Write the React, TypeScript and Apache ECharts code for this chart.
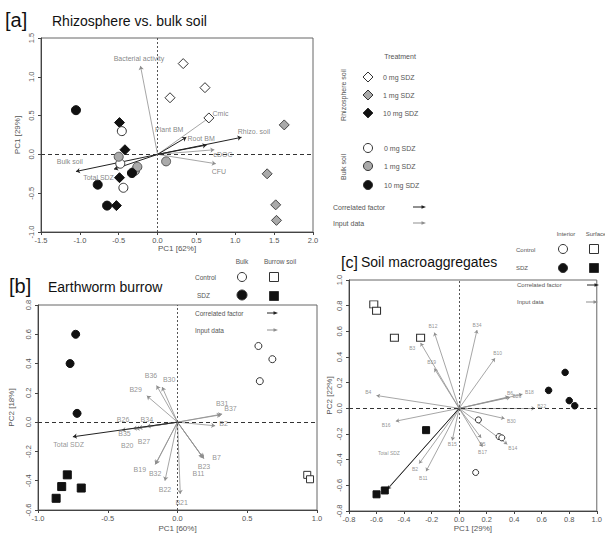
import React, { useEffect, useRef } from 'react';
import * as echarts from 'echarts';

const FONT = '"Liberation Sans", Arial, Helvetica, sans-serif';

// ---------- Panel a: Rhizosphere vs. bulk soil ----------
const aRhizo0 = [[0.33, 1.17], [0.61, 0.86], [0.16, 0.73], [0.66, 0.47]];
const aRhizo1 = [[1.63, 0.38], [1.41, -0.25], [1.52, -0.65], [1.53, -0.85]];
const aRhizo10 = [[-0.49, 0.41], [-0.42, 0.06], [-0.49, -0.3], [-0.53, -0.66]];
const aBulk0 = [[-0.46, 0.3], [-0.48, -0.12], [-0.44, -0.43]];
const aBulk1 = [[-0.5, -0.03], [-0.29, -0.21], [-0.26, -0.16], [0.11, -0.09]];
const aBulk10 = [[-1.05, 0.57], [-0.77, -0.39], [-0.65, -0.66], [-0.33, -0.24]];
// [name, x, y, labelX, labelY, kind]
const aArrows: [string, number, number, number, number, string][] = [
  ['Bacterial activity', -0.22, 1.14, -0.24, 1.24, 'input'],
  ['Cmic', 0.66, 0.47, 0.81, 0.53, 'input'],
  ['Plant BM', 0.37, 0.22, 0.15, 0.32, 'corr'],
  ['Root BM', 0.63, 0.12, 0.56, 0.21, 'corr'],
  ['Rhizo. soil', 1.08, 0.22, 1.24, 0.29, 'corr'],
  ['eDOC', 0.73, 0.06, 0.84, 0.0, 'input'],
  ['CFU', 0.75, -0.12, 0.79, -0.22, 'input'],
  ['Bulk soil', -1.05, -0.22, -1.13, -0.09, 'corr'],
  ['Total SDZ', -0.56, -0.19, -0.76, -0.3, 'corr'],
];
const aXTicks = { min: -1.5, max: 2.0, step: 0.5 };
const aYTicks = { min: -1.0, max: 1.5, step: 0.5 };

// ---------- Panel b: Earthworm burrow ----------
const bBulkSDZ = [[-0.73, 0.6], [-0.77, 0.4], [-0.72, 0.06]];
const bBulkCtrl = [[0.58, 0.52], [0.68, 0.43], [0.59, 0.28]];
const bBurrowSDZ = [[-0.79, -0.36], [-0.83, -0.44], [-0.69, -0.45], [-0.87, -0.52]];
const bBurrowCtrl = [[0.93, -0.36], [0.95, -0.39]];
const bArrows: [string, number, number, number, number, string][] = [
  ['B36', -0.15, 0.25, -0.19, 0.32, 'input'],
  ['B30', -0.11, 0.24, -0.06, 0.29, 'input'],
  ['B29', -0.22, 0.18, -0.3, 0.22, 'input'],
  ['B31', 0.32, 0.055, 0.32, 0.13, 'input'],
  ['B37', 0.31, 0.05, 0.38, 0.09, 'input'],
  ['B2', 0.27, -0.025, 0.33, -0.01, 'input'],
  ['B7', 0.19, -0.25, 0.28, -0.24, 'input'],
  ['B23', 0.185, -0.245, 0.19, -0.3, 'input'],
  ['B11', 0.18, -0.24, 0.15, -0.35, 'input'],
  ['B19', -0.16, -0.29, -0.27, -0.32, 'input'],
  ['B32', -0.155, -0.285, -0.16, -0.35, 'input'],
  ['B22', -0.09, -0.4, -0.09, -0.46, 'input'],
  ['B21', 0.02, -0.49, 0.03, -0.55, 'input'],
  ['B26', -0.4, -0.055, -0.39, 0.015, 'input'],
  ['B34', -0.22, -0.03, -0.22, 0.015, 'input'],
  ['B35', -0.3, -0.045, -0.38, -0.08, 'input'],
  ['B27', -0.28, -0.04, -0.24, -0.13, 'input'],
  ['B20', -0.32, -0.045, -0.36, -0.16, 'input'],
  ['Total SDZ', -0.75, -0.1, -0.78, -0.15, 'corr'],
];
const bXTicks = { min: -1.0, max: 1.0, step: 0.5 };
const bYTicks = { min: -0.6, max: 0.8, step: 0.2 };

// ---------- Panel c: Soil macroaggregates ----------
const cSurfCtrl = [[-0.62, 0.81], [-0.6, 0.76], [-0.47, 0.55], [-0.28, 0.55]];
const cSurfSDZ = [[-0.24, -0.17], [-0.54, -0.64], [-0.6, -0.67]];
const cIntCtrl = [[0.14, -0.09], [0.29, -0.22], [0.31, -0.23], [0.12, -0.5]];
const cIntSDZ = [[0.77, 0.28], [0.65, 0.14], [0.8, 0.06], [0.84, 0.02]];
const cArrows: [string, number, number, number, number, string][] = [
  ['B4', -0.6, 0.1, -0.66, 0.13, 'input'],
  ['B16', -0.46, -0.1, -0.53, -0.13, 'input'],
  ['B19', -0.18, 0.31, -0.2, 0.36, 'input'],
  ['B3', -0.28, 0.51, -0.34, 0.47, 'input'],
  ['B12', -0.18, 0.59, -0.19, 0.64, 'input'],
  ['B34', 0.13, 0.61, 0.13, 0.65, 'input'],
  ['B10', 0.26, 0.39, 0.28, 0.43, 'input'],
  ['B6', 0.36, 0.09, 0.37, 0.12, 'input'],
  ['B26', 0.37, 0.085, 0.42, 0.1, 'input'],
  ['B18', 0.46, 0.11, 0.51, 0.13, 'input'],
  ['B22', 0.55, 0.0, 0.6, 0.02, 'input'],
  ['B30', 0.33, -0.08, 0.38, -0.1, 'input'],
  ['B14', 0.35, -0.28, 0.39, -0.31, 'input'],
  ['B5', 0.16, -0.23, 0.17, -0.28, 'input'],
  ['B17', 0.17, -0.3, 0.17, -0.34, 'input'],
  ['B15', -0.05, -0.25, -0.05, -0.28, 'input'],
  ['B2', -0.29, -0.43, -0.32, -0.47, 'input'],
  ['B11', -0.24, -0.49, -0.26, -0.54, 'input'],
  ['', -0.55, -0.66, -0.55, -0.66, 'input'],
  ['Total SDZ', -0.52, -0.63, -0.51, -0.35, 'corr'],
];
const cXTicks = { min: -0.8, max: 1.0, step: 0.2 };
const cYTicks = { min: -0.8, max: 1.0, step: 0.2 };

const TICK_COLOR = '#555';
const AXIS_COLOR = '#444';

function xAxis(idx: number, t: any, name: string, nameGap: number) {
  return {
    type: 'value', gridIndex: idx, min: t.min, max: t.max, interval: t.step,
    name, nameLocation: 'middle', nameGap,
    nameTextStyle: { fontSize: 8, color: TICK_COLOR, fontFamily: FONT },
    axisLine: { show: true, onZero: false, lineStyle: { color: AXIS_COLOR, width: 1 } },
    axisTick: { show: true, length: 3, lineStyle: { color: AXIS_COLOR } },
    splitLine: { show: false },
    axisLabel: { fontSize: 7.5, color: TICK_COLOR, fontFamily: FONT, margin: 4, formatter: (v: number) => v.toFixed(1) },
  };
}
function yAxis(idx: number, t: any, name: string, nameGap: number) {
  return {
    type: 'value', gridIndex: idx, min: t.min, max: t.max, interval: t.step,
    name, nameLocation: 'middle', nameGap, nameRotate: 90,
    nameTextStyle: { fontSize: 8, color: TICK_COLOR, fontFamily: FONT },
    axisLine: { show: true, onZero: false, lineStyle: { color: AXIS_COLOR, width: 1 } },
    axisTick: { show: true, length: 3, lineStyle: { color: AXIS_COLOR } },
    splitLine: { show: false },
    axisLabel: { fontSize: 7.5, color: TICK_COLOR, fontFamily: FONT, margin: 6, rotate: 90, formatter: (v: number) => v.toFixed(1) },
  };
}

function pts(data: number[][], idx: number, symbol: string, size: any, fill: string, border: string) {
  return {
    type: 'scatter', xAxisIndex: idx, yAxisIndex: idx, data, symbol, symbolSize: size,
    itemStyle: { color: fill, borderColor: border, borderWidth: 1, opacity: 1 }, z: 6, silent: true,
  };
}

function arrowSeries(list: [string, number, number, number, number, string][], idx: number, head: number, labelSize: number, labelColor: string) {
  const mk = (kind: string, color: string, width: number) => ({
    type: 'lines', coordinateSystem: 'cartesian2d', xAxisIndex: idx, yAxisIndex: idx,
    symbol: ['none', 'arrow'], symbolSize: head, silent: true, z: kind === 'corr' ? 4 : 3,
    lineStyle: { color, width, opacity: 1, curveness: 0 },
    data: list.filter((a) => a[5] === kind).map((a) => ({ coords: [[0, 0], [a[1], a[2]]] })),
  });
  const labels = {
    type: 'scatter', xAxisIndex: idx, yAxisIndex: idx, symbol: 'circle', symbolSize: 1, silent: true, z: 7,
    itemStyle: { color: 'rgba(0,0,0,0)' },
    label: { show: true, position: 'inside', formatter: (p: any) => p.data.name, fontSize: labelSize, color: labelColor, fontFamily: FONT },
    data: list.filter((a) => a[0] !== '').map((a) => ({ name: a[0], value: [a[3], a[4]] })),
    markLine: {
      silent: true, symbol: 'none', label: { show: false },
      data: [
        { xAxis: 0, lineStyle: { type: [2, 2], color: '#555', width: 1 } },
        { yAxis: 0, lineStyle: { type: [4, 3], color: '#333', width: 1 } },
      ],
    },
  };
  return [mk('input', '#8f8f8f', 0.8), mk('corr', '#222', 1), labels];
}

function txt(text: string, x: number, y: number, size: number, color: string, align = 'left', rotation = 0) {
  return {
    type: 'text', x, y, rotation, silent: true,
    style: { text, fill: color, font: `${size}px ${FONT}`, align, verticalAlign: 'middle' },
  };
}
function circ(cx: number, cy: number, r: number, fill: string) {
  return { type: 'circle', silent: true, shape: { cx, cy, r }, style: { fill, stroke: '#333', lineWidth: 1 } };
}
function sq(cx: number, cy: number, s: number, fill: string) {
  return { type: 'rect', silent: true, shape: { x: cx - s / 2, y: cy - s / 2, width: s, height: s }, style: { fill, stroke: '#333', lineWidth: 1 } };
}
function dia(cx: number, cy: number, h: number, fill: string) {
  return { type: 'polygon', silent: true, shape: { points: [[cx, cy - h], [cx + h, cy], [cx, cy + h], [cx - h, cy]] }, style: { fill, stroke: '#333', lineWidth: 1 } };
}
function arrowG(x1: number, x2: number, y: number, color: string) {
  return [
    { type: 'line', silent: true, shape: { x1, y1: y, x2: x2 - 3, y2: y }, style: { stroke: color, lineWidth: 1 } },
    { type: 'polygon', silent: true, shape: { points: [[x2, y], [x2 - 4.5, y - 1.8], [x2 - 4.5, y + 1.8]] }, style: { fill: color } },
  ];
}

export default function App() {
  const ref = useRef<HTMLDivElement>(null);
  useEffect(() => {
    document.body.style.margin = '0';
    const chart = echarts.init(ref.current!, null, { renderer: 'svg' });
    const legendColor = '#555';
    const graphic: any[] = [
      // titles
      txt('[a]', 5, 20, 20, '#111'),
      txt('Rhizosphere vs. bulk soil', 52, 21, 14, '#111'),
      txt('[b]', 9, 286, 20, '#111'),
      txt('Earthworm burrow', 48, 287, 14, '#111'),
      txt('[c]', 341, 262, 16, '#111'),
      txt('Soil macroaggregates', 361, 262, 14, '#111'),
      // legend a
      txt('Treatment', 400, 56, 7, legendColor, 'center'),
      txt('Rhizosphere soil', 343, 95, 7, legendColor, 'center', Math.PI / 2),
      txt('Bulk soil', 343, 167, 7, legendColor, 'center', Math.PI / 2),
      dia(368, 77, 5, '#fff'), dia(368, 95, 5, '#aaa'), dia(368, 113, 5, '#111'),
      circ(368, 148, 4.5, '#fff'), circ(368, 166, 4.5, '#aaa'), circ(368, 185, 4.5, '#111'),
      txt('0 mg SDZ', 383, 77, 7, legendColor), txt('1 mg SDZ', 383, 95, 7, legendColor), txt('10 mg SDZ', 383, 113, 7, legendColor),
      txt('0 mg SDZ', 384, 148, 7, legendColor), txt('1 mg SDZ', 384, 166, 7, legendColor), txt('10 mg SDZ', 384, 185, 7, legendColor),
      txt('Correlated factor', 333, 207, 7, legendColor), ...arrowG(413, 426, 207, '#222'),
      txt('Input data', 333, 223, 7, legendColor), ...arrowG(413, 426, 223, '#8f8f8f'),
      // legend b
      txt('Bulk', 242, 261, 6.5, legendColor, 'center'), txt('Burrow soil', 280, 261, 6.5, legendColor, 'center'),
      txt('Control', 195, 277, 6.5, legendColor), txt('SDZ', 197, 295, 6.5, legendColor),
      circ(242, 277, 4.5, '#fff'), sq(274, 277, 9, '#fff'), circ(242, 295, 5, '#111'), sq(274, 296, 9, '#111'),
      txt('Correlated factor', 195, 313, 6.5, legendColor), ...arrowG(267, 278, 313, '#222'),
      txt('Input data', 195, 330, 6.5, legendColor), ...arrowG(267, 278, 330, '#8f8f8f'),
      // legend c
      txt('Interior', 566, 234, 6, legendColor, 'center'), txt('Surface', 596, 234, 6, legendColor, 'center'),
      txt('Control', 516, 250, 6, legendColor), txt('SDZ', 516, 268, 6, legendColor),
      circ(563, 249, 4.5, '#fff'), sq(594, 249, 9, '#fff'), circ(563, 268, 4.5, '#111'), sq(594, 268, 9, '#111'),
      txt('Correlated factor', 517, 285, 6, legendColor), ...arrowG(587, 599, 285, '#222'),
      txt('Input data', 517, 302, 6, legendColor), ...arrowG(586, 598, 302, '#8f8f8f'),
    ];

    chart.setOption({
      animation: false,
      backgroundColor: '#fff',
      grid: [
        { left: 41, top: 38, width: 272, height: 194, show: true, borderColor: '#666', borderWidth: 1 },
        { left: 38, top: 305, width: 279, height: 205, show: true, borderColor: '#666', borderWidth: 1 },
        { left: 349, top: 280, width: 255, height: 231, show: true, borderColor: '#666', borderWidth: 1 },
      ],
      xAxis: [
        xAxis(0, aXTicks, 'PC1 [62%]', 12),
        xAxis(1, bXTicks, 'PC1 [60%]', 14),
        xAxis(2, cXTicks, 'PC1 [29%]', 13),
      ],
      yAxis: [
        yAxis(0, aYTicks, 'PC1 [29%]', 20),
        yAxis(1, bYTicks, 'PC2 [18%]', 23),
        yAxis(2, cYTicks, 'PC2 [22%]', 16),
      ],
      graphic,
      series: [
        ...arrowSeries(aArrows, 0, 4, 7, '#666'),
        ...arrowSeries(bArrows, 1, 4, 7, '#777'),
        ...arrowSeries(cArrows, 2, 3.5, 5, '#777'),
        pts(aRhizo0, 0, 'diamond', 10, '#fff', '#333'),
        pts(aRhizo1, 0, 'diamond', 10, '#aaa', '#444'),
        pts(aRhizo10, 0, 'diamond', 10, '#111', '#111'),
        pts(aBulk0, 0, 'circle', 9, '#fff', '#333'),
        pts(aBulk1, 0, 'circle', 9, '#aaa', '#555'),
        pts(aBulk10, 0, 'circle', 9, '#111', '#111'),
        pts(bBulkSDZ, 1, 'circle', 8, '#111', '#111'),
        pts(bBulkCtrl, 1, 'circle', 7, '#fff', '#333'),
        pts(bBurrowSDZ, 1, 'rect', 8, '#111', '#111'),
        pts(bBurrowCtrl, 1, 'rect', 7, '#fff', '#333'),
        pts(cSurfCtrl, 2, 'rect', [8, 7], '#fff', '#333'),
        pts(cSurfSDZ, 2, 'rect', 7, '#111', '#111'),
        pts(cIntCtrl, 2, 'circle', 6, '#fff', '#333'),
        pts(cIntSDZ, 2, 'circle', 6.5, '#111', '#111'),
      ],
    });
    return () => chart.dispose();
  }, []);
  return <div ref={ref} style={{ width: 605, height: 535 }} />;
}
